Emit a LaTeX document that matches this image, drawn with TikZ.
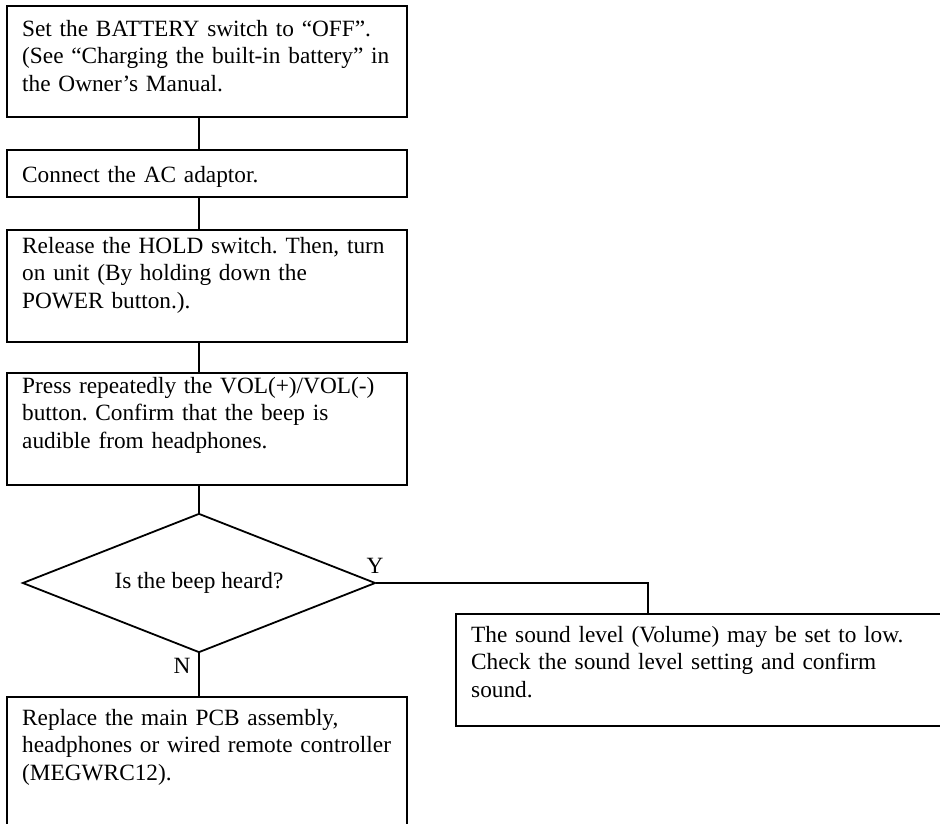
\documentclass[tikz,border=0pt]{standalone}
\usepackage{fontspec}
\setmainfont{Liberation Serif}
\frenchspacing
\usetikzlibrary{shapes.geometric}
\newcommand{\diagfont}{\fontsize{23.3}{27.6}\selectfont\frenchspacing}
\tikzset{
  frame/.style={draw, line width=1.8pt, inner sep=0pt, minimum width=400pt},
  txt/.style={anchor=base west, inner sep=0pt, align=left, text width=600pt,
              font=\diagfont},
  lbl/.style={anchor=base, inner sep=0pt, font=\diagfont},
  link/.style={line width=1.8pt},
  decision/.style={diamond, draw, line width=1.8pt, inner sep=0pt,
                   minimum width=353pt, minimum height=139pt, aspect=2.54,
                   font=\diagfont}
}
\begin{document}
\begin{tikzpicture}[x=1pt, y=-1pt]
\useasboundingbox (0,0) rectangle (940,823);
\clip (0,0) rectangle (940,823);

% boxes
\node[frame, minimum height=111pt] (b1) at (207,61.5) {};
\node[frame, minimum height=47pt]  (b2) at (207,173.5) {};
\node[frame, minimum height=112pt] (b3) at (207,286) {};
\node[frame, minimum height=112pt] (b4) at (207,429) {};
\node[decision] (d) at (199,583) {Is the beep heard?};
\node[frame, minimum height=139pt] (b5) at (207,766.5) {};
\node[frame, minimum width=544pt, minimum height=112pt] (r) at (728,670) {};

% texts
\node[txt] (t1) at (22,36) {Set the BATTERY switch to “OFF”.\\(See “Charging the built-in battery” in\\the Owner’s Manual.};
\node[txt] (t2) at (22,182) {Connect the AC adaptor.};
\node[txt] (t3) at (22,253) {Release the HOLD switch. Then, turn\\on unit (By holding down the\\POWER button.).};
\node[txt] (t4) at (22,393) {Press repeatedly the VOL(+)/VOL(-)\\button. Confirm that the beep is\\audible from headphones.};
\node[txt] (t5) at (22,725) {Replace the main PCB assembly,\\headphones or wired remote controller\\(MEGWRC12).};
\node[txt] (tr) at (471,642) {The sound level (Volume) may be set to low.\\Check the sound level setting and confirm\\sound.};

% labels
\node[lbl] (ly) at (375,573) {Y};
\node[lbl] (ln) at (182,673) {N};

% connectors
\draw[link] (b1.south -| d.north) -- (b2.north -| d.north);
\draw[link] (b2.south -| d.north) -- (b3.north -| d.north);
\draw[link] (b3.south -| d.north) -- (b4.north -| d.north);
\draw[link] (b4.south -| d.north) -- (d.north);
\draw[link] (d.south) -- (b5.north -| d.south);
\coordinate (yc) at (648,583);
\draw[link] (d.east) -- (yc) -- (yc |- r.north);
\end{tikzpicture}
\end{document}
